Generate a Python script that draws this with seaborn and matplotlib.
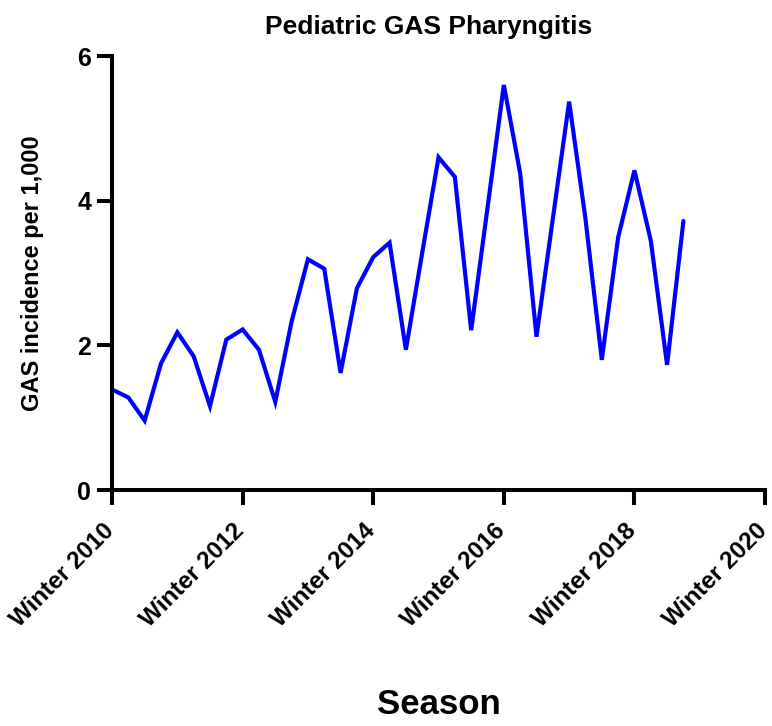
import matplotlib
matplotlib.use("Agg")
import matplotlib.pyplot as plt
import matplotlib.transforms as mtransforms
import pandas as pd
import seaborn as sns

# -----------------------------
# Data (quarterly seasons, starting Winter 2010)
# -----------------------------
quarter = list(range(36))
incidence = [1.39, 1.28, 0.96, 1.75, 2.18, 1.85, 1.16, 2.08, 2.22, 1.94,
             1.22, 2.33, 3.19, 3.06, 1.62, 2.79, 3.22, 3.42, 1.94, 3.28,
             4.60, 4.33, 2.21, 3.90, 5.60, 4.38, 2.12, 3.75, 5.37, 3.75,
             1.80, 3.49, 4.42, 3.45, 1.73, 3.72]
tick_quarters = [0, 8, 16, 24, 32, 40]
tick_labels = ["Winter 2010", "Winter 2012", "Winter 2014",
               "Winter 2016", "Winter 2018", "Winter 2020"]
y_ticks = [0, 2, 4, 6]

df = pd.DataFrame({"quarter": quarter, "incidence": incidence})

sns.set_style("ticks")
plt.rcParams["font.family"] = ["Liberation Sans", "DejaVu Sans"]
plt.rcParams["font.weight"] = "bold"
plt.rcParams["text.color"] = "black"
plt.rcParams["axes.labelcolor"] = "black"
plt.rcParams["xtick.color"] = "black"
plt.rcParams["ytick.color"] = "black"

fig = plt.figure(figsize=(7.72, 7.26), dpi=100)
ax = fig.add_axes([0.1451, 0.325, 0.8459, 0.5978])

sns.lineplot(data=df, x="quarter", y="incidence", ax=ax, color="#0000FF",
             linewidth=3.0, solid_joinstyle="miter")

ax.set_xlim(0, 40)
ax.set_ylim(0, 6)
ax.set_xticks(tick_quarters)
ax.set_xticklabels(tick_labels, rotation=45, ha="right",
                   rotation_mode="anchor", fontsize=17.5, fontweight="bold")
ax.set_yticks(y_ticks)
ax.set_yticklabels([str(v) for v in y_ticks], fontsize=18, fontweight="bold")

sns.despine(ax=ax)
for side in ["left", "bottom"]:
    ax.spines[side].set_linewidth(2.9)
    ax.spines[side].set_color("black")
ax.tick_params(axis="both", length=11, width=2.9, color="black", pad=4)
ax.tick_params(axis="x", pad=10)

# nudge rotated labels a little left so the last one stays on the canvas
# (done after tick_params, which resets label transforms)
shift = mtransforms.ScaledTranslation(-10 / 100, 0, fig.dpi_scale_trans)
for tick in ax.xaxis.get_major_ticks():
    tick.label1.set_transform(tick.label1.get_transform() + shift)

ax.set_title("Pediatric GAS Pharyngitis", fontsize=19, fontweight="bold",
             x=0.485, pad=16)
ax.set_ylabel("GAS incidence per 1,000", fontsize=17, fontweight="bold", labelpad=24)
ax.set_xlabel("Season", fontsize=25, fontweight="bold")
ax.xaxis.set_label_coords(0.5, -0.455)

plt.savefig("out.png", dpi=100)
plt.close()
